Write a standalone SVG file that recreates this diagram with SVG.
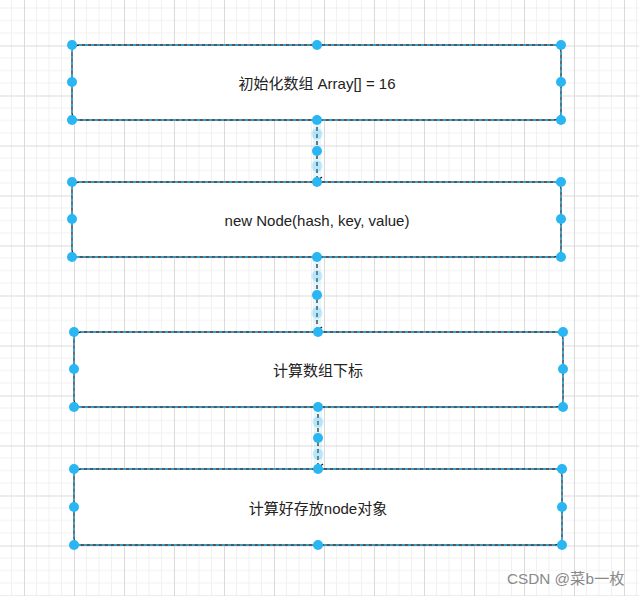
<svg xmlns="http://www.w3.org/2000/svg" width="639" height="596" viewBox="0 0 639 596">
<defs>
<pattern id="grid" patternUnits="userSpaceOnUse" x="24" y="45.5" width="50" height="50">
<path d="M12.5 0V50M25 0V50M37.5 0V50M0 12.5H50M0 25H50M0 37.5H50" stroke="#f1f1f1" stroke-width="1" fill="none"/>
<path d="M0.5 0V50M0 0.5H50" stroke="#dadada" stroke-width="1" fill="none"/>
</pattern>
<marker id="arr" viewBox="0 0 10 10" refX="5" refY="9" markerWidth="10" markerHeight="10" markerUnits="userSpaceOnUse" orient="auto-start-reverse">
<path d="M1 4L5 9L9 4" fill="none" stroke="#222" stroke-width="1.3"/>
</marker>
<style>
.box{fill:#fff;stroke:#222;stroke-width:1.3}
.sel{fill:none;stroke:#29b6f2;stroke-width:1.5;stroke-dasharray:3 3}
.h{fill:#29b6f2}
.hp{fill:#29b6f2;opacity:0.25}
.t{font-family:"Liberation Sans",Arial,"Noto Sans CJK SC",sans-serif;font-size:15px;fill:#222;text-anchor:middle;dominant-baseline:central}
.glow{stroke:#29b6f2;stroke-opacity:0.12;stroke-width:8;fill:none}
.ln{stroke:#333;stroke-width:1.3;stroke-dasharray:4 3;fill:none}
.wm{font-family:"Liberation Sans",Arial,"Noto Sans CJK SC",sans-serif;font-size:15.3px;fill:#8a8a8a}
</style>
</defs>
<rect width="639" height="596" fill="#fff"/>
<rect width="639" height="596" fill="url(#grid)"/>

<g id="edges">
<g id="e1">
<path class="glow" d="M317 120V182"/>
<path class="ln" d="M317 120V181" marker-end="url(#arr)"/>
<circle class="hp" cx="317" cy="134" r="5.5"/>
<circle class="hp" cx="317" cy="166" r="5.5"/>
<circle class="h" cx="317" cy="151" r="5"/>
</g>
<g id="e2">
<path class="glow" d="M317 257V332"/>
<path class="ln" d="M317 257V331" marker-end="url(#arr)"/>
<circle class="hp" cx="317" cy="276" r="5.5"/>
<circle class="hp" cx="317" cy="313" r="5.5"/>
<circle class="h" cx="317" cy="295" r="5"/>
</g>
<g id="e3">
<path class="glow" d="M318 407V469"/>
<path class="ln" d="M318 407V468" marker-end="url(#arr)"/>
<circle class="hp" cx="318" cy="422" r="5.5"/>
<circle class="hp" cx="318" cy="454" r="5.5"/>
<circle class="h" cx="318" cy="438" r="5"/>
</g>
</g>

<g id="n1">
<rect class="box" x="72" y="45" width="489" height="75" rx="7"/>
<rect class="sel" x="72" y="45" width="489" height="75" rx="7"/>
<text class="t" x="317" y="83">初始化数组 Array[] = 16</text>
<circle class="h" cx="72" cy="45" r="5"/><circle class="h" cx="317" cy="45" r="5"/><circle class="h" cx="561" cy="45" r="5"/>
<circle class="h" cx="72" cy="82" r="5"/><circle class="h" cx="561" cy="82" r="5"/>
<circle class="h" cx="72" cy="120" r="5"/><circle class="h" cx="317" cy="120" r="5"/><circle class="h" cx="561" cy="120" r="5"/>
</g>

<g id="n2">
<rect class="box" x="72" y="182" width="489" height="75" rx="7"/>
<rect class="sel" x="72" y="182" width="489" height="75" rx="7"/>
<text class="t" x="317" y="220">new Node(hash, key, value)</text>
<circle class="h" cx="72" cy="182" r="5"/><circle class="h" cx="317" cy="182" r="5"/><circle class="h" cx="561" cy="182" r="5"/>
<circle class="h" cx="72" cy="219" r="5"/><circle class="h" cx="561" cy="219" r="5"/>
<circle class="h" cx="72" cy="257" r="5"/><circle class="h" cx="317" cy="257" r="5"/><circle class="h" cx="561" cy="257" r="5"/>
</g>

<g id="n3">
<rect class="box" x="74" y="332" width="489" height="75" rx="7"/>
<rect class="sel" x="74" y="332" width="489" height="75" rx="7"/>
<text class="t" x="318" y="370">计算数组下标</text>
<circle class="h" cx="74" cy="332" r="5"/><circle class="h" cx="318" cy="332" r="5"/><circle class="h" cx="563" cy="332" r="5"/>
<circle class="h" cx="74" cy="369" r="5"/><circle class="h" cx="563" cy="369" r="5"/>
<circle class="h" cx="74" cy="407" r="5"/><circle class="h" cx="318" cy="407" r="5"/><circle class="h" cx="563" cy="407" r="5"/>
</g>

<g id="n4">
<rect class="box" x="74" y="469" width="488" height="76" rx="7"/>
<rect class="sel" x="74" y="469" width="488" height="76" rx="7"/>
<text class="t" x="318" y="508">计算好存放node对象</text>
<circle class="h" cx="74" cy="469" r="5"/><circle class="h" cx="318" cy="469" r="5"/><circle class="h" cx="562" cy="469" r="5"/>
<circle class="h" cx="74" cy="507" r="5"/><circle class="h" cx="562" cy="507" r="5"/>
<circle class="h" cx="74" cy="545" r="5"/><circle class="h" cx="318" cy="545" r="5"/><circle class="h" cx="562" cy="545" r="5"/>
</g>

<text class="wm" x="507" y="584">CSDN @菜b一枚</text>
</svg>
